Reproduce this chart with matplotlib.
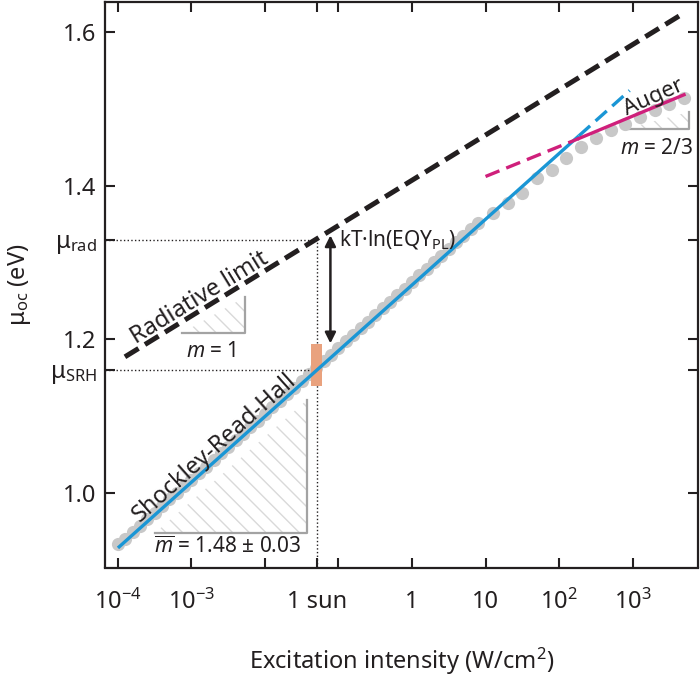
import numpy as np
import matplotlib.pyplot as plt

plt.rcParams['font.family'] = ['Noto Sans', 'DejaVu Sans']
plt.rcParams['mathtext.fontset'] = 'custom'
plt.rcParams['mathtext.rm'] = 'Noto Sans'
plt.rcParams['mathtext.it'] = 'Noto Sans:italic'
plt.rcParams['mathtext.bf'] = 'Noto Sans:bold'
plt.rcParams['hatch.linewidth'] = 1.0
plt.rcParams['hatch.color'] = '#d9d9d9'

# measured mu_oc vs excitation intensity (log10 W/cm2, eV)
log_I = [-4.0, -3.9, -3.8, -3.7, -3.6, -3.5, -3.4, -3.3, -3.2, -3.1,
         -3.0, -2.9, -2.8, -2.7, -2.6, -2.5, -2.4, -2.3, -2.2, -2.1,
         -2.0, -1.9, -1.8, -1.7, -1.6, -1.5, -1.4, -1.3, -1.2, -1.1,
         -1.0, -0.9, -0.8, -0.7, -0.6, -0.5, -0.4, -0.3, -0.2, -0.1,
         0.0, 0.1, 0.2, 0.3, 0.4, 0.5, 0.6, 0.7, 0.8, 0.9,
         1.1, 1.3, 1.5, 1.7, 1.9, 2.1, 2.3, 2.5, 2.7, 2.9,
         3.1, 3.3, 3.5, 3.7]
mu_oc = [0.933, 0.940, 0.949, 0.957, 0.966, 0.974, 0.983, 0.992, 1.000, 1.009,
         1.017, 1.026, 1.034, 1.043, 1.052, 1.060, 1.069, 1.077, 1.086, 1.094,
         1.103, 1.111, 1.120, 1.129, 1.137, 1.146, 1.154, 1.163, 1.171, 1.180,
         1.189, 1.197, 1.206, 1.214, 1.223, 1.231, 1.240, 1.249, 1.257, 1.266,
         1.274, 1.283, 1.291, 1.300, 1.309, 1.317, 1.326, 1.334, 1.343, 1.351,
         1.364, 1.377, 1.390, 1.410, 1.420, 1.436, 1.450, 1.462, 1.472, 1.481,
         1.489, 1.498, 1.507, 1.514]

# fitted lines (log10 I, mu)
srh_logI = [-4.0, 2.27]
srh_mu = [0.928, 1.465]
srh_ext_logI = [2.27, 2.96]
srh_ext_mu = [1.465, 1.524]
auger_logI = [2.27, 3.70]
auger_mu = [1.4615, 1.5185]
auger_ext_logI = [1.0, 2.27]
auger_ext_mu = [1.412, 1.4615]
rad_logI = [-3.905, 3.716]
rad_mu = [1.177, 1.626]

sun = 0.0518
mu_rad = 1.329
mu_srh = 1.160

# slope triangles: (logI left, logI right, mu bottom, mu top)
tri_rad = (-3.132, -2.277, 1.2077, 1.255)
tri_srh = (-3.498, -1.422, 0.9473, 1.1204)
tri_aug = (2.879, 3.771, 1.4733, 1.4958)

xticks = [1e-4, 1e-3, 1e-2, sun, 1e-1, 1, 10, 1e2, 1e3]
xticklabels = [r'$\mathregular{10^{-4}}$', r'$\mathregular{10^{-3}}$', '', '1 sun', '',
               '1', '10', r'$\mathregular{10^{2}}$', r'$\mathregular{10^{3}}$']
yticks = [1.0, 1.2, 1.4, 1.6, mu_srh, mu_rad]
yticklabels = ['1.0', '1.2', '1.4', '1.6', r'$\mathregular{μ_{SRH}}$', r'$\mathregular{μ_{rad}}$']

blue = '#1a96d5'
magenta = '#cf1f7b'
black = '#231f20'
tri_gray = '#a3a3a3'

fig = plt.figure(figsize=(7, 6.76), dpi=100)
ax = fig.add_axes([105/700, (676-567.5)/676, (698-105)/700, (567.5-1.5)/676])

def p(l):
    return 10**np.array(l)

# hatched slope triangles
for (l0, l1, m0, m1) in [tri_rad, tri_srh, tri_aug]:
    ax.fill(p([l0, l1, l1]), [m0, m0, m1], facecolor='none', edgecolor='#d9d9d9',
            lw=0, hatch='\\\\', zorder=0)
    ax.plot(p([l0, l1, l1]), [m0, m0, m1], color=tri_gray, lw=1.6, zorder=0.5)

# reference dotted lines
ax.plot([6.6e-5, sun], [mu_rad, mu_rad], ':', color=black, lw=1.0)
ax.plot([6.6e-5, sun], [mu_srh, mu_srh], ':', color=black, lw=1.0)
ax.plot([sun, sun], [0.85, mu_rad], ':', color=black, lw=1.0)

ax.plot(p(log_I), mu_oc, 'o', ms=9.5, color='#c8c8c8', mec='none', zorder=1)

ax.plot(p(rad_logI), rad_mu, color=black, lw=3.6, dashes=(3.2, 1.5), zorder=3)
ax.plot(p(srh_logI), srh_mu, color=blue, lw=2.4, solid_capstyle='butt', zorder=3)
ax.plot(p(srh_ext_logI), srh_ext_mu, color=blue, lw=2.4, dashes=(4.5, 2.2), zorder=3)
ax.plot(p(auger_logI), auger_mu, color=magenta, lw=2.4, zorder=3)
ax.plot(p(auger_ext_logI), auger_ext_mu, color=magenta, lw=2.4, dashes=(4.5, 2.2), zorder=3)

# 1 sun marker
ax.fill(p([-1.368, -1.218, -1.218, -1.368]), [1.1388, 1.1388, 1.1934, 1.1934],
        color='#e9a27e', lw=0, zorder=2)

ax.annotate('', xy=(10**-1.110, 1.1945), xytext=(10**-1.110, 1.3353),
            arrowprops=dict(arrowstyle='<|-|>', color=black, lw=1.8, mutation_scale=16,
                            shrinkA=0, shrinkB=0))

fs = 17
fs_small = 15
ax.text(10**-2.887, 1.2533, 'Radiative limit', rotation=31.5, rotation_mode='anchor',
        ha='center', va='center', fontsize=fs, color=black)
ax.text(10**-2.684, 1.0592, 'Shockley-Read-Hall', rotation=41.8, rotation_mode='anchor',
        ha='center', va='center', fontsize=fs, color=black)
ax.text(10**3.286, 1.515, 'Auger', rotation=24, rotation_mode='anchor',
        ha='center', va='center', fontsize=16, color=black)
ax.text(10**3.83, 1.4487, r'$m$ = 2/3', ha='right', va='center', fontsize=fs_small, color=black)
ax.text(10**-2.738, 1.1841, r'$m$ = 1', ha='center', va='center', fontsize=fs_small, color=black)
ax.text(10**-2.507, 0.9288, r'$\overline{m}$ = 1.48 ± 0.03', ha='center', va='center',
        fontsize=fs_small, color=black)
ax.text(10**-0.988, 1.3285, r'$\mathregular{kT·ln(EQY_{PL})}$', ha='left', va='center',
        fontsize=fs_small, color=black)

ax.set_xscale('log')
ax.set_xlim(10**-4.176, 10**3.89)
ax.set_ylim(0.9025, 1.640)
ax.minorticks_off()
ax.set_xticks(xticks)
ax.set_xticklabels(xticklabels)
ax.set_yticks(yticks)
ax.set_yticklabels(yticklabels)
ax.tick_params(direction='in', length=7, width=1.5, top=True, right=True,
               labelsize=fs, color=black, labelcolor=black)
ax.tick_params(axis='x', pad=16)
ax.tick_params(axis='y', pad=6)
for s in ax.spines.values():
    s.set_linewidth(1.6)
    s.set_color(black)

ax.set_xlabel(r'Excitation intensity (W/cm$\mathregular{^2}$)', fontsize=fs, labelpad=22, color=black)
ax.set_ylabel(r'$\mathregular{μ_{oc}}$ (eV)', fontsize=fs, labelpad=12, color=black)

fig.savefig('out.png', dpi=100)
